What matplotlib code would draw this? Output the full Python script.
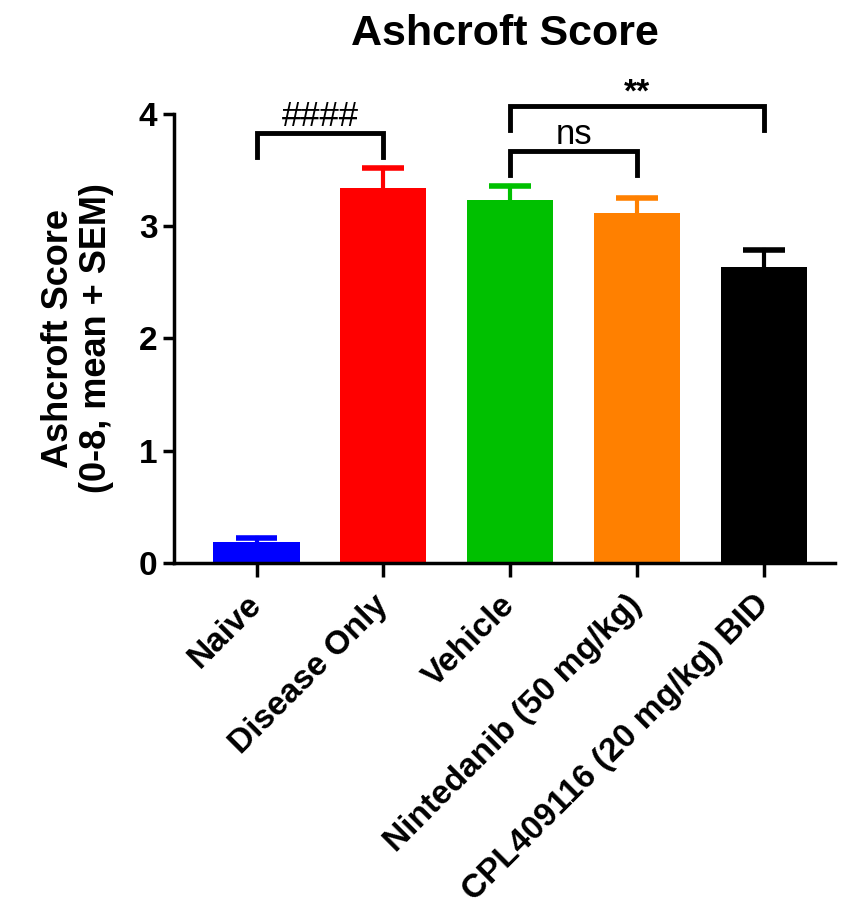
import matplotlib
matplotlib.use("Agg")
from matplotlib import pyplot as plt
import numpy as np

plt.rcParams["font.family"] = ["Liberation Sans", "DejaVu Sans"]

# group means and SEM for the Ashcroft score
groups = ["Naive", "Disease Only", "Vehicle", "Nintedanib (50 mg/kg)", "CPL409116 (20 mg/kg) BID"]
means = [0.18, 3.34, 3.23, 3.12, 2.64]
sem = [0.04, 0.18, 0.13, 0.13, 0.15]
colors = ["#0000FF", "#FF0000", "#00C000", "#FF8000", "#000000"]

# significance brackets: (left group, right group, bracket height, label)
brackets = [(0, 1, 3.83, "####"), (2, 3, 3.67, "ns"), (2, 4, 4.07, "**")]

fig = plt.figure(figsize=(8.45, 9.06), dpi=100)
ax = fig.add_axes([0.206, 0.379, 0.782, 0.495])

x = np.arange(len(groups))
ax.bar(x, means, width=0.68, color=colors, zorder=2)
# upper-only error bars: stem from the bar top plus a cap
cap = 0.165
for i in range(len(groups)):
    top = means[i] + sem[i]
    ax.plot([x[i], x[i]], [means[i], top], color=colors[i], lw=3, zorder=3)
    ax.plot([x[i] - cap, x[i] + cap], [top, top], color=colors[i], lw=4,
            solid_capstyle="butt", zorder=3)

for a, b, h, lab in brackets:
    leg = 0.21
    ax.plot([x[a], x[a], x[b], x[b]], [h - leg, h, h, h - leg], color="black",
            lw=3.5, clip_on=False, solid_joinstyle="miter", zorder=4)
    if lab == "**":
        ax.text((x[a] + x[b]) / 2, h - 0.02, lab, ha="center", va="bottom",
                fontsize=24, fontweight="bold")
    else:
        ax.text((x[a] + x[b]) / 2, h + 0.0, lab, ha="center", va="bottom",
                fontsize=25)

ax.set_xlim(-0.65, 4.56)
ax.set_ylim(0, 4)
ax.set_yticks([0, 1, 2, 3, 4])
ax.set_xticks(x)
ax.set_xticklabels(groups, rotation=45, ha="right", va="center",
                   rotation_mode="anchor", fontsize=24, fontweight="bold")
for t in ax.get_yticklabels():
    t.set_fontsize(24)
    t.set_fontweight("bold")

ax.spines["top"].set_visible(False)
ax.spines["right"].set_visible(False)
ax.spines["left"].set_linewidth(2.5)
ax.spines["bottom"].set_linewidth(2.5)
ax.tick_params(axis="y", length=8, width=2.5, pad=4)
ax.tick_params(axis="x", length=10, width=2.5, pad=17)

ax.set_ylabel("Ashcroft Score\n(0-8, mean + SEM)", fontsize=26, fontweight="bold",
              linespacing=1.1, labelpad=18)
ax.set_title("Ashcroft Score", fontsize=31, fontweight="bold", pad=50)

fig.savefig("out.png", dpi=100)
